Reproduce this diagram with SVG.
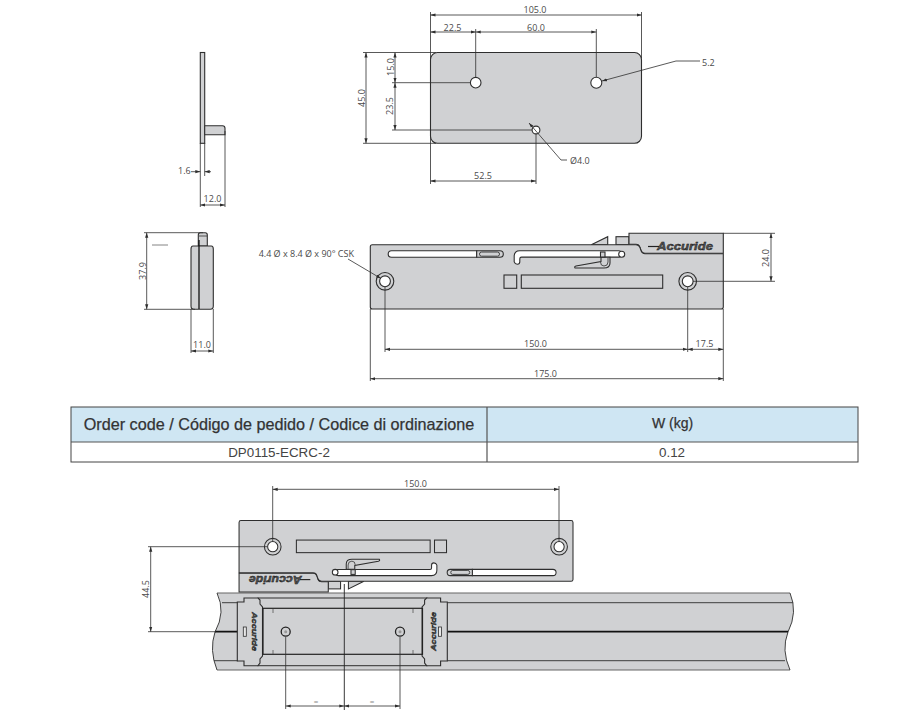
<svg xmlns="http://www.w3.org/2000/svg" xmlns:xlink="http://www.w3.org/1999/xlink" width="900" height="718" viewBox="0 0 900 718">
<style>
text{font-family:"Open Sans","Liberation Sans",sans-serif;font-size:9px;fill:#4a4a4a}
.c{text-anchor:middle}
.b{fill:#d0d1d3;stroke:#2e2e2e;stroke-width:1.1}
.h{fill:#fff;stroke:#2e2e2e;stroke-width:1.1}
.l{fill:none;stroke:#2e2e2e;stroke-width:.8}
.d{fill:none;stroke:#2e2e2e;stroke-width:.8;marker-start:url(#as);marker-end:url(#ae)}
.lg{font-family:"Liberation Sans",sans-serif;font-style:italic;font-weight:bold;font-size:11px;fill:#555;stroke:#111;stroke-width:.4}
.th{font-family:"Liberation Sans",Arial,sans-serif;font-size:16.200px;fill:#333;stroke:#333;stroke-width:.25}
.td{font-family:"Liberation Sans",Arial,sans-serif;font-size:13.400px;fill:#444}
</style>
<defs>
<marker id="ae" markerUnits="userSpaceOnUse" markerWidth="5" markerHeight="4" refX="5" refY="2" orient="auto"><path d="M0 .4L5 2L0 3.6z" fill="#2e2e2e"/></marker>
<marker id="as" markerUnits="userSpaceOnUse" markerWidth="5" markerHeight="4" refX="0" refY="2" orient="auto"><path d="M5 .4L0 2L5 3.6z" fill="#2e2e2e"/></marker>
<g id="plate">
<path class="b" d="M591.300 244.700L607.700 236.700V244.700z"/>
<rect class="b" x="616" y="236.700" width="13" height="8"/>
<path class="b" d="M629 233.300H723.300V253.300H645q-3 0-4-3l-1-3q-1-3-4-3H629z"/>
<path class="b" d="M372.300 244.700H636q3 0 4 3l1 3q1 3 4 3H723.300V307q0 2-2 2H372.300q-2 0-2-2V246.700q0-2 2-2z"/>
<path class="h" d="M391.500 250.700H476.700V257.300H391.500q-3.300 0-3.300-3.300t3.300-3.300z"/>
<path class="b" d="M476.700 250.700H500q3.300 0 3.300 3.300t-3.300 3.300H476.700z"/>
<rect x="479.500" y="252" width="20" height="4.200" rx="2" fill="#d0d1d3" stroke="#2e2e2e" stroke-width=".9"/>
<path class="h" d="M520 250.700H618.500q3.200 0 3.200 3.200t-3.200 3.200H521.500q-1.700 0-1.700 1.700v3q0 2.400-2.400 2.400t-3.200-2.400v-5.500q0-5.600 5.600-5.600z"/>
<path class="b" d="M575 268Q574 266.500 576 266L601 261.500V257.300H610V263Q610 268 604 268z"/>
<path class="l" d="M600.500 262Q600.500 266 604 266Q608 266 608 262V258"/>
<circle class="h" cx="621.700" cy="254.300" r="3"/>
<rect class="b" x="600.500" y="252" width="4.500" height="5"/>
<rect class="b" x="504" y="275" width="12.700" height="13.300"/>
<rect class="b" x="521.300" y="275" width="141.400" height="13.300"/>
<circle class="b" cx="385" cy="281.300" r="8.800"/>
<circle class="h" cx="385" cy="281.300" r="5.400"/>
<circle class="b" cx="687.700" cy="281.300" r="8.800"/>
<circle class="h" cx="687.700" cy="281.300" r="5.400"/>
<path d="M648 246.500H659" stroke="#222" stroke-width="1.200"/>
<text class="lg" x="657" y="250" textLength="56" lengthAdjust="spacingAndGlyphs">Accuride</text>
</g>
<path id="bracket" class="b" d="M237.300 602H244V598H258L260 600V604L262.500 607V656L260 659V663L258 665.700H244V661H237.300z"/>
</defs>
<rect width="900" height="718" fill="#fff"/>

<g id="plate-top">
<rect class="b" x="430.500" y="52.500" width="211" height="90.800" rx="7"/>
<circle class="h" cx="475.700" cy="82.700" r="5.300"/>
<circle class="h" cx="596.300" cy="82.700" r="5.500"/>
<circle class="h" cx="536" cy="130" r="3.900"/>
<text class="c" x="535" y="13">105.0</text>
<text class="c" x="452.500" y="31">22.5</text>
<text class="c" x="536" y="31">60.0</text>
<text class="c" transform="translate(365 98) rotate(-90)">45.0</text>
<text class="c" transform="translate(393.500 67) rotate(-90)">15.0</text>
<text class="c" transform="translate(393 106) rotate(-90)">23.5</text>
<text class="c" x="483" y="179">52.5</text>
<text x="702" y="66">5.2</text>
<text x="570" y="164">Ø4.0</text>
</g>

<g id="side-plate">
<rect class="b" x="200.300" y="52.500" width="4.400" height="90.800"/>
<path class="b" d="M204.700 125.700H222.500q2.500 0 2.500 2.500V134.700H204.700z"/>
<text x="178" y="174">1.6</text>
<text class="c" x="212.500" y="202">12.0</text>
</g>

<g id="side-front">
<path class="b" d="M198.300 246V235q0-2.300 2-2.300h5q2 0 2 2.300V246z"/>
<path class="l" d="M199 236H207"/>
<path class="b" d="M193 246H211.300q2 0 2 3V306q0 3.300-3 3.300H194q-3 0-3-3.300V249q0-3 2-3z"/>
<path d="M199 240V309" stroke="#111" stroke-width="1.300"/>
<text class="c" transform="translate(146 271) rotate(-90)">37.9</text>
<text class="c" x="202" y="348">11.0</text>
</g>

<g id="front-view">
<use xlink:href="#plate" href="#plate"/>
<text class="c" x="535.500" y="347">150.0</text>
<text class="c" x="704.500" y="347">17.5</text>
<text class="c" x="545.500" y="377">175.0</text>
<text class="c" transform="translate(769 258) rotate(-90)">24.0</text>
<text x="354" y="257" text-anchor="end">4.4 Ø x 8.4 Ø x 90° CSK</text>
</g>

<g id="order-table">
<rect x="71" y="407" width="787" height="35" fill="#cfe6f3"/>
<rect x="71" y="407" width="787" height="55" fill="none" stroke="#444" stroke-width="1"/>
<path d="M71 442H858M487 407V462" stroke="#555" stroke-width="1.200" fill="none"/>
<text class="th" x="279" y="430" text-anchor="middle">Order code / Código de pedido / Codice di ordinazione</text>
<text class="th" x="672.500" y="428" text-anchor="middle" style="font-size:14px">W (kg)</text>
<text class="td c" x="279" y="456.500">DP0115-ECRC-2</text>
<text class="td c" x="672" y="456.500">0.12</text>
</g>

<g id="rail">
<path d="M217 593H790Q798 612 788 632Q781 650 790 670H217Q209 650 215 632Q226 612 217 593z" fill="#d0d1d3"/>
<path d="M217 593H790M217 670H790" fill="none" stroke="#666" stroke-width="1.100"/>
<path class="l" d="M790 593Q798 612 788 632Q781 650 790 670M217 670Q209 650 215 632Q226 612 217 593M222 602.700H238M447 602.700H793M214 660.700H238M447 660.700H785" style="stroke-width:.9"/>
<path d="M215 631.700H238M447 631.700H788" stroke="#111" stroke-width="1.700" fill="none"/>
</g>

<g id="assembly-plate" transform="translate(923.300 812.800) rotate(180) scale(.946)">
<use xlink:href="#plate" href="#plate"/>
</g>
<text class="c" x="415.500" y="487">150.0</text>
<text class="c" transform="translate(149 589) rotate(-90)">44.5</text>

<g id="slider">
<rect x="258" y="598" width="169" height="67.700" fill="#d0d1d3" stroke="#2e2e2e" stroke-width="1"/>
<use xlink:href="#bracket" href="#bracket"/>
<use xlink:href="#bracket" href="#bracket" transform="translate(684.600 0) scale(-1 1)"/>
<rect x="243.300" y="627" width="3" height="9.300" fill="#e8e8e8" stroke="#2e2e2e" stroke-width=".8"/>
<rect x="438.500" y="627" width="3" height="9.300" fill="#e8e8e8" stroke="#2e2e2e" stroke-width=".8"/>
<text class="lg" style="font-size:8px" transform="translate(252 612) rotate(90)" textLength="39" lengthAdjust="spacingAndGlyphs">Accuride</text>
<text class="lg" style="font-size:8px" transform="translate(436 651) rotate(-90)" textLength="39" lengthAdjust="spacingAndGlyphs">Accuride</text>
<rect x="263" y="608.300" width="159.500" height="46" fill="none" stroke="#222" stroke-width="1.200"/>
<path d="M273 609V613M273 650V654M413 609V613M413 650V654" stroke="#555" stroke-width=".8"/>
<circle cx="285.700" cy="631.700" r="4.500" fill="#d0d1d3" stroke="#222" stroke-width="1.300"/>
<circle cx="285.700" cy="631.700" r="1.500" fill="#999"/>
<circle cx="400" cy="631.700" r="4.500" fill="#d0d1d3" stroke="#222" stroke-width="1.300"/>
<circle cx="400" cy="631.700" r="1.500" fill="#999"/>
<text class="c" x="316" y="704" style="font-size:8px;fill:#888">=</text>
<text class="c" x="372" y="704" style="font-size:8px;fill:#888">=</text>
</g>

<g id="connectors">
<path class="l" d="M430.500 12V60M430.500 136V184M641.500 12V58M363 52.500H436M363 143.300H436M392 82.700H470.500M392 130H532M475.700 29V77.500M596.300 29V77M536 134V184"/>
<path class="d" d="M430.500 15H641.500"/><path class="d" d="M430.500 32H475.700"/><path class="d" d="M475.700 32H596.300"/>
<path class="d" d="M366 52.500V143.300"/><path class="d" d="M395 52.500V82.700"/><path class="d" d="M395 82.700V130"/><path class="d" d="M430.500 181H536"/>
<path class="l" d="M700 61H676L602 81" marker-end="url(#ae)"/>
<path class="l" d="M567 160H561L529 123" marker-end="url(#ae)"/>
<path class="l" d="M200.300 143V207M204.700 143V176M225 131V207M144 232.700H203M144 309.300H195M191 309V353M213.300 309V353"/>
<path class="d" d="M200.300 205H225"/>
<path class="l" d="M191 171.700H200.300" marker-end="url(#ae)"/><path class="l" d="M211 171.700H204.700" marker-end="url(#ae)"/>
<path class="d" d="M146.700 232.700V309.300"/><path class="d" d="M191 351H213.300"/>
<path d="M152 245H168" stroke="#666" stroke-width=".8"/>
<path class="l" d="M385 287V352M687.700 287V352M370.300 309V381M723.300 309V381M723.300 233.300H775M693 281.300H775"/>
<path class="d" d="M385 349.300H687.700"/><path class="d" d="M687.700 349.300H723.300"/><path class="d" d="M370.300 378.700H723.300"/><path class="d" d="M771 233.300V281.300"/>
<path class="l" d="M348 259L381 278.500" marker-end="url(#ae)"/>
<path class="l" d="M272.700 486V541M559 486V541M148 546.700H267M148 631.700H216M285.700 637V709M400 637V709"/>
<path class="d" d="M272.700 489.300H559"/><path class="d" d="M150.700 546.700V631.700"/><path class="d" d="M285.700 706H344.300"/><path class="d" d="M344.300 706H400"/>
<path d="M344.300 584V710" stroke="#222" stroke-width=".9"/>
</g>
</svg>
